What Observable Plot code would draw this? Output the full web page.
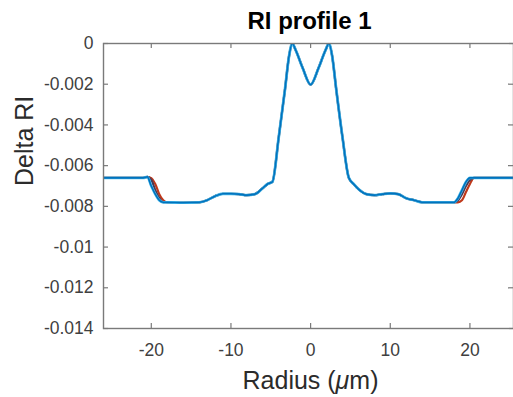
<!DOCTYPE html>
<html><head><meta charset="utf-8">
<script src="https://cdn.jsdelivr.net/npm/d3@7"></script>
<script src="https://cdn.jsdelivr.net/npm/@observablehq/plot@0.6"></script>
<style>body{margin:0;background:#fff;} svg{display:block}</style>
</head><body><div id="chart"></div>
<script>
const radius = [-26, -21, -20.5, -20, -19.5, -19, -18.5,
  -18, -16, -14, -13, -12, -11, -10, -9, -8, -7, -6, -5.4, -4.8, -4, -3.2, -2.7, -2.3, -1.9, -1, 0,
  1, 1.9, 2.3, 2.7, 3.2, 4, 4.8, 5.4, 6, 7, 8, 9, 10, 11, 12, 13, 14, 16,
  18, 18.5, 19, 19.5, 20, 20.5, 21, 26];
const coreDelta = [-0.0078, -0.00782, -0.0078, -0.0077, -0.0075, -0.00738, -0.00738, -0.0074, -0.00745, -0.0074,
  -0.0071, -0.0069, -0.0068, -0.0046, -0.0022, -0.0006, 0, -0.0003, -0.0012, -0.00202,
  -0.0012, -0.0003, 0, -0.0006, -0.0022, -0.0046, -0.0066, -0.0069, -0.00715, -0.0074,
  -0.00745, -0.0074, -0.00736, -0.0074, -0.0076, -0.0077, -0.0078, -0.0078];
const redLeft = [-0.0066, -0.0066, -0.00655, -0.00662, -0.0069, -0.0074, -0.0077];
const redRight = [-0.0078, -0.0078, -0.0077, -0.0073, -0.0069, -0.0066, -0.0066, -0.0066];
const purpleLeft = [-0.0066, -0.0066, -0.00655, -0.0067, -0.0072, -0.0076, -0.0078];
const purpleRight = [-0.0078, -0.0077, -0.0074, -0.0070, -0.0067, -0.0066, -0.0066, -0.0066];
const blueLeft = [-0.0066, -0.0066, -0.00655, -0.0070, -0.0074, -0.0077, -0.0078];
const blueRight = [-0.0078, -0.0076, -0.0072, -0.0068, -0.0066, -0.0066, -0.0066, -0.0066];
const xTicks = [-20, -10, 0, 10, 20];
const yTicks = [0, -0.002, -0.004, -0.006, -0.008, -0.01, -0.012, -0.014];
const yTickLabels = ["0", "-0.002", "-0.004", "-0.006", "-0.008", "-0.01", "-0.012", "-0.014"];

const series = [
  {name: "red", color: "#C0391B", width: 2.2, delta: [...redLeft, ...coreDelta, ...redRight]},
  {name: "purple", color: "#4a3a55", width: 2.2, delta: [...purpleLeft, ...coreDelta, ...purpleRight]},
  {name: "light", color: "#4DBEEE", width: 2.8, delta: [...blueLeft, ...coreDelta, ...blueRight]},
  {name: "blue", color: "#0072BD", width: 1.6, delta: [...blueLeft, ...coreDelta, ...blueRight]}
];
const rows = s => radius.map((r, i) => ({r, d: s.delta[i]}));

const font = "Liberation Sans, Arial, sans-serif";
const plot = Plot.plot({
  width: 513, height: 397,
  marginLeft: 103, marginRight: 0, marginTop: 43, marginBottom: 69,
  style: {fontFamily: font, background: "#fff"},
  x: {domain: [-26, 25.47]},
  y: {domain: [-0.014, 0]},
  marks: [
    ...series.map(s => Plot.line(rows(s), {x: "r", y: "d", stroke: s.color, strokeWidth: s.width, curve: "monotone-x", clip: true})),
    Plot.frame({stroke: "#7a7a7a", strokeWidth: 1.4}),
    Plot.ruleX(xTicks, {x: d => d, insetTop: 280, stroke: "#7a7a7a", strokeWidth: 1.2}),
    Plot.ruleX(xTicks, {x: d => d, insetBottom: 280, stroke: "#7a7a7a", strokeWidth: 1.2}),
    Plot.ruleY(yTicks, {y: d => d, insetRight: 405, stroke: "#7a7a7a", strokeWidth: 1.2}),
    Plot.ruleY(yTicks, {y: d => d, insetLeft: 405, stroke: "#7a7a7a", strokeWidth: 1.2}),
    Plot.axisX({ticks: xTicks, tickSize: 0, tickPadding: 15.5, tickFormat: d => String(d), fontSize: 17.5, fill: "#404040", label: null}),
    Plot.axisY({ticks: yTicks, tickSize: 0, tickPadding: 10, tickFormat: d => yTickLabels[yTicks.indexOf(d)], fontSize: 17.5, fill: "#404040", label: null}),
    Plot.text(["RI profile 1"], {frameAnchor: "top", dy: -21.7, dx: 1, text: d => d, fontSize: 24, fontWeight: "bold", fill: "#000", lineAnchor: "middle"}),
    Plot.text(["Radius (μm)"], {frameAnchor: "bottom", dy: 52, dx: 2, text: d => d, fontSize: 25, fill: "#2b2b2b", lineAnchor: "middle"}),
    Plot.text(["Delta RI"], {frameAnchor: "left", dx: -79, rotate: -90, text: d => d, fontSize: 25, fill: "#2b2b2b", lineAnchor: "middle"})
  ]
});
d3.select(plot).selectAll("text").each(function() {
  const t = this.textContent;
  if (t === "Radius (μm)") {
    const sel = d3.select(this);
    sel.text("");
    sel.append("tspan").text("Radius (");
    sel.append("tspan").attr("font-style", "italic").text("μ");
    sel.append("tspan").text("m)");
  }
});
document.getElementById("chart").appendChild(plot);
</script>
</body></html>
